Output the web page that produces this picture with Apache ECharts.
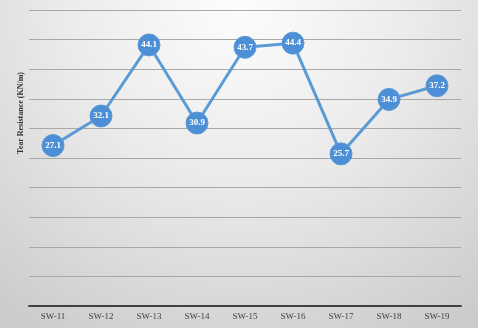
<!DOCTYPE html>
<html><head><meta charset="utf-8">
<script src="https://cdn.jsdelivr.net/npm/echarts@6/dist/echarts.min.js"></script>
<style>html,body{margin:0;padding:0;}#c{width:478px;height:328px;}</style>
</head><body><div id="c"></div>
<script>
const categories = ['SW-11','SW-12','SW-13','SW-14','SW-15','SW-16','SW-17','SW-18','SW-19'];
const values = [27.1, 32.1, 44.1, 30.9, 43.7, 44.4, 25.7, 34.9, 37.2];
const yTitle = 'Tear Resistance (KN/m)';
const chart = echarts.init(document.getElementById('c'));
chart.setOption({
  backgroundColor: {
    type: 'radial', x: 0.5, y: 0.0, r: 1.2,
    colorStops: [{offset: 0, color: '#fdfdfd'}, {offset: 0.45, color: '#ebebeb'}, {offset: 1, color: '#cbcbcb'}]
  },
  animation: false,
  grid: {left: 29, right: 17, top: 10, bottom: 22},
  xAxis: {
    type: 'category', data: categories, boundaryGap: true,
    axisLine: {lineStyle: {color: '#404040', width: 2}},
    axisTick: {show: false},
    axisLabel: {fontFamily: 'Liberation Serif', fontSize: 9, color: '#404040', margin: 6}
  },
  yAxis: {
    type: 'value', min: 0, max: 50, interval: 5,
    axisLabel: {show: false}, axisLine: {show: false}, axisTick: {show: false},
    splitLine: {lineStyle: {color: '#a8a8a8', width: 1}}
  },
  graphic: [{
    type: 'text', left: 17, top: 72, rotation: Math.PI / 2,
    style: {text: yTitle, font: 'bold 8px "Liberation Serif"', fill: '#303030'}
  }],
  series: [{
    type: 'line', data: values,
    symbol: 'circle', symbolSize: 22,
    lineStyle: {color: '#5b9bd5', width: 3},
    itemStyle: {color: '#4d8fd6', borderColor: '#5b9bd5', borderWidth: 1},
    label: {show: true, position: 'inside', color: '#ffffff', fontFamily: 'Liberation Serif', fontWeight: 'bold', fontSize: 9,
      formatter: p => p.value.toFixed(1)}
  }]
});
</script>
</body></html>
